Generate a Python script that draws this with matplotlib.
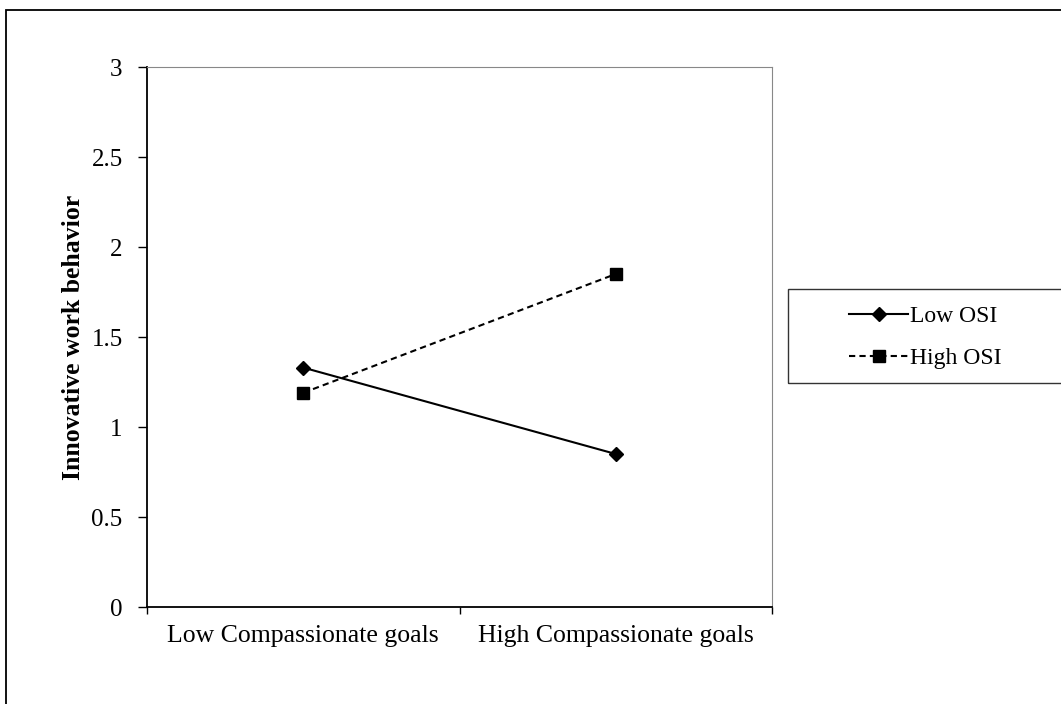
import matplotlib.pyplot as plt
from matplotlib.patches import Rectangle

# ===== Datos =====
categorias = ['Low Compassionate goals', 'High Compassionate goals']
low_osi = [1.33, 0.85]
high_osi = [1.19, 1.85]
y_ticks = [0, 0.5, 1, 1.5, 2, 2.5, 3]
y_labels = ['0', '0.5', '1', '1.5', '2', '2.5', '3']

plt.rcParams['font.family'] = ['Liberation Serif', 'DejaVu Serif']

W, H = 1061, 704
fig = plt.figure(figsize=(W / 100, H / 100), dpi=100)
ax = fig.add_axes([147/W, 1 - 607/H, (772-147)/W, (607-67)/H])

x = list(range(len(categorias)))
ax.plot(x, low_osi, color='black', linestyle='-', linewidth=1.5,
        marker='D', markersize=7, label='Low OSI')
ax.plot(x, high_osi, color='black', linestyle=(0, (3, 2)), linewidth=1.5,
        marker='s', markersize=8.5, label='High OSI')

ax.set_xlim(-0.5, 1.5)
ax.set_ylim(0, 3)
ax.set_yticks(y_ticks)
ax.set_yticklabels(y_labels, fontsize=18)
ax.set_xticks(x)
ax.set_xticklabels(categorias, fontsize=18.5)
ax.tick_params(axis='x', length=0, pad=13)
ax.set_xticks([-0.5, 0.5, 1.5], minor=True)
ax.tick_params(axis='x', which='minor', length=5, width=1, direction='out', color='black')
ax.tick_params(axis='y', length=6.5, width=1, direction='out', pad=11)
ax.set_ylabel('Innovative work behavior', fontsize=18.5, fontweight='bold')
ax.yaxis.set_label_coords(-0.099, 0.5)

ax.spines['top'].set_color('#888888')
ax.spines['right'].set_color('#888888')
for s in ['left', 'bottom']:
    ax.spines[s].set_color('black')
    ax.spines[s].set_linewidth(1.3)

# Leyenda (marco dibujado aparte, se sale por la derecha)
leg = ax.legend(loc='center left', bbox_to_anchor=(849/W, 1 - 337.5/H),
                bbox_transform=fig.transFigure, fontsize=17, frameon=False,
                borderpad=0, labelspacing=0.85, handlelength=2.5,
                handletextpad=0.1, borderaxespad=0)
fig.patches.append(Rectangle((788/W, 1 - 383/H), 300/W, 94/H,
                             transform=fig.transFigure, fill=False,
                             edgecolor='#333333', linewidth=1.0))

# Borde exterior (también recortado por derecha y abajo)
fig.patches.append(Rectangle((6/W, -0.05), 1.1, 1 - 10/H + 0.05,
                             transform=fig.transFigure, fill=False,
                             edgecolor='black', linewidth=1.3))

plt.savefig('out.png', dpi=100)
